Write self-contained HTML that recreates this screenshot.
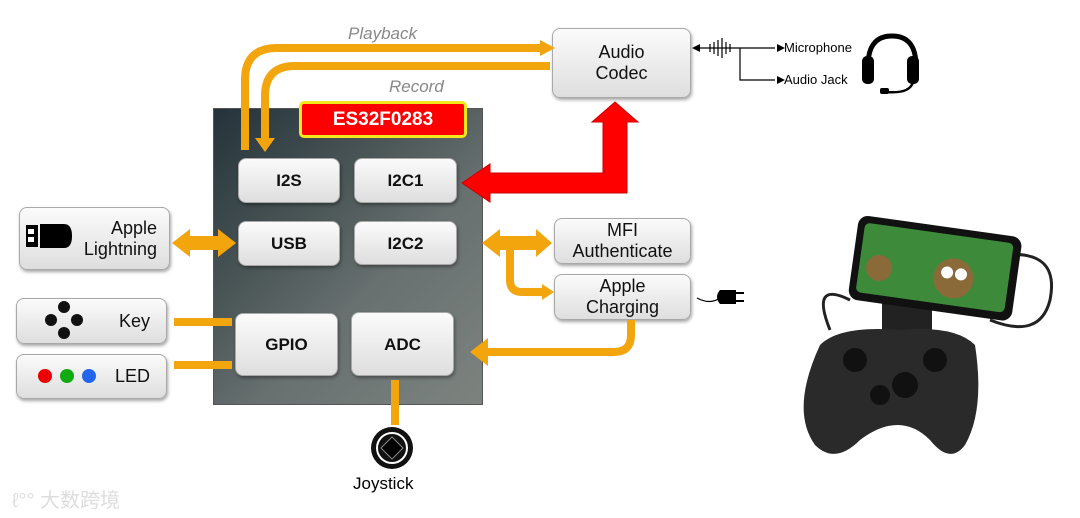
<!DOCTYPE html>
<html><head><meta charset="utf-8"><style>
body{margin:0;width:1080px;height:518px;background:#fff;position:relative;overflow:hidden;font-family:"Liberation Sans","DejaVu Sans",sans-serif}
.b{position:absolute;border:1px solid #a8a8a8;border-radius:8px;background:linear-gradient(#fbfbfb,#dedede);box-shadow:1px 2px 3px rgba(0,0,0,.35);display:flex;align-items:center;justify-content:center;text-align:center;color:#111;font-size:18px;line-height:21px;box-sizing:border-box}
.m{font-weight:bold;font-size:17px}
.t{position:absolute}
</style></head><body>
<div style="position:absolute;left:213px;top:108px;width:270px;height:297px;background:linear-gradient(135deg,#24333a 0%,#4a5556 35%,#687070 60%,#7c837f 100%);border:1px solid #555;box-sizing:border-box"></div>
<div style="position:absolute;left:299px;top:101px;width:168px;height:37px;background:#f00;border:3px solid #f3e81c;border-radius:5px;box-sizing:border-box;color:#fff;font-weight:bold;font-size:19px;display:flex;align-items:center;justify-content:center">ES32F0283</div>
<div class="b m" style="left:238px;top:158px;width:102px;height:45px">I2S</div>
<div class="b m" style="left:354px;top:158px;width:103px;height:45px">I2C1</div>
<div class="b m" style="left:238px;top:221px;width:102px;height:45px">USB</div>
<div class="b m" style="left:354px;top:221px;width:103px;height:44px">I2C2</div>
<div class="b m" style="left:235px;top:313px;width:103px;height:63px">GPIO</div>
<div class="b m" style="left:351px;top:312px;width:103px;height:64px">ADC</div>
<div class="b" style="left:552px;top:28px;width:139px;height:70px">Audio<br>Codec</div>
<div class="b" style="left:554px;top:218px;width:137px;height:46px">MFI<br>Authenticate</div>
<div class="b" style="left:554px;top:274px;width:137px;height:46px">Apple<br>Charging</div>
<div class="b" style="left:19px;top:207px;width:151px;height:63px;justify-content:flex-end;padding-right:12px;text-align:right">Apple<br>Lightning</div>
<div class="b" style="left:16px;top:298px;width:151px;height:46px;justify-content:flex-end;padding-right:16px">Key</div>
<div class="b" style="left:16px;top:354px;width:151px;height:45px;justify-content:flex-end;padding-right:16px">LED</div>
<div class="t" style="left:348px;top:24px;color:#888;font-style:italic;font-size:17px">Playback</div>
<div class="t" style="left:389px;top:77px;color:#888;font-style:italic;font-size:17px">Record</div>
<div class="t" style="left:353px;top:474px;font-size:17px">Joystick</div>
<div class="t" style="left:784px;top:40px;font-size:13px">Microphone</div>
<div class="t" style="left:784px;top:72px;font-size:13px">Audio Jack</div>
<div class="t" style="left:12px;top:484px;font-size:20px;color:#ddd;font-family:'Liberation Sans','Noto Sans CJK SC',sans-serif">ℓ°° 大数跨境</div>
<svg width="1080" height="518" style="position:absolute;left:0;top:0">
<g fill="none" stroke="#f2a50c" stroke-width="8">
<path d="M245 150 V80 Q245 48 277 48 H540"/>
<path d="M550 66 H295 Q265 66 265 96 V140"/>
<path d="M174 322 H232 M174 365 H232"/>
<path d="M631 320 V335 Q631 352 614 352 H485"/>
<path d="M395 380 V425"/>
<path d="M510 243 V280 Q510 292 522 292 H545"/>
</g>
<g fill="#f2a50c">
<polygon points="540,40 555,48 540,56"/>
<polygon points="255,138 265,152 275,138"/>
<polygon points="172,243 190,229 190,236 218,236 218,229 236,243 218,257 218,250 190,250 190,257"/>
<polygon points="482,243 500,229 500,236 536,236 536,229 552,243 536,257 536,250 500,250 500,257"/>
<polygon points="542,284 554,292 542,300"/>
<polygon points="470,352 488,338 488,366"/>
</g>
<path d="M462 183 L490 164 V173 H603 V122 H592 L615 102 L638 122 H627 V193 H490 V202 Z" fill="#f00" stroke="#c00"/>
<circle cx="392" cy="448" r="21" fill="#111"/><circle cx="392" cy="448" r="15" fill="none" stroke="#fff" stroke-width="2"/>
<polygon points="392,437 403,448 392,459 381,448" fill="#000" stroke="#888"/>
<rect x="26" y="225" width="12" height="22" fill="#000"/><rect x="28" y="229" width="6" height="5" fill="#fff"/><rect x="28" y="237" width="6" height="5" fill="#fff"/>
<path d="M40 224 H64 Q72 224 72 236 Q72 248 64 248 H40Z" fill="#000"/>
<circle cx="64" cy="307" r="6" fill="#111"/><circle cx="51" cy="320" r="6" fill="#111"/><circle cx="77" cy="320" r="6" fill="#111"/><circle cx="64" cy="333" r="6" fill="#111"/>
<circle cx="45" cy="376" r="7" fill="#e00"/><circle cx="67" cy="376" r="7" fill="#1a1"/><circle cx="89" cy="376" r="7" fill="#26e"/>
<g stroke="#000" stroke-width="1.2" fill="none">
<path d="M696 48 H775 M740 48 V80 H775"/>
<path d="M710 44 V52 M714 42 V54 M718 40 V56 M722 38 V58 M726 42 V54 M730 44 V52"/>
<path d="M697 298 Q710 305 720 298"/>
</g>
<polygon points="692,48 700,44 700,52"/><polygon points="777,44 785,48 777,52"/><polygon points="777,76 785,80 777,84"/>
<path d="M720 290 H736 V304 H720 Q714 297 720 290Z" fill="#000"/><path d="M736 293 H744 M736 301 H744" stroke="#000" stroke-width="2"/>
<path d="M868 66 Q868 36 892 36 Q916 36 916 66" fill="none" stroke="#000" stroke-width="5"/>
<rect x="862" y="56" width="12" height="28" rx="5"/><rect x="907" y="56" width="12" height="28" rx="5"/>
<path d="M913 82 Q910 94 886 92" fill="none" stroke="#000" stroke-width="2.5"/><rect x="880" y="88" width="9" height="6" rx="2"/>
<path d="M1005 255 Q1060 250 1050 300 Q1040 340 990 320" fill="none" stroke="#222" stroke-width="3"/>
<path d="M850 300 Q810 280 830 330" fill="none" stroke="#222" stroke-width="3"/>
<rect x="882" y="290" width="50" height="45" fill="#222"/>
<g transform="rotate(8 930 265)"><rect x="853" y="225" width="165" height="85" rx="10" fill="#111"/><rect x="860" y="232" width="150" height="70" rx="5" fill="#3d8a3a"/>
<circle cx="880" cy="275" r="13" fill="#8b6a3a"/><circle cx="955" cy="275" r="20" fill="#8b6a3a"/><circle cx="948" cy="270" r="6" fill="#fff"/><circle cx="962" cy="270" r="6" fill="#fff"/></g>
<path d="M820 345 Q840 325 900 330 Q955 325 975 345 Q985 410 965 445 Q950 465 930 440 Q900 410 860 440 Q835 465 815 445 Q790 410 820 345Z" fill="#2a2a2a"/>
<circle cx="855" cy="360" r="12" fill="#111"/><circle cx="905" cy="385" r="13" fill="#111"/><circle cx="880" cy="395" r="10" fill="#111"/><circle cx="935" cy="360" r="12" fill="#111"/>
</svg>
</body></html>
